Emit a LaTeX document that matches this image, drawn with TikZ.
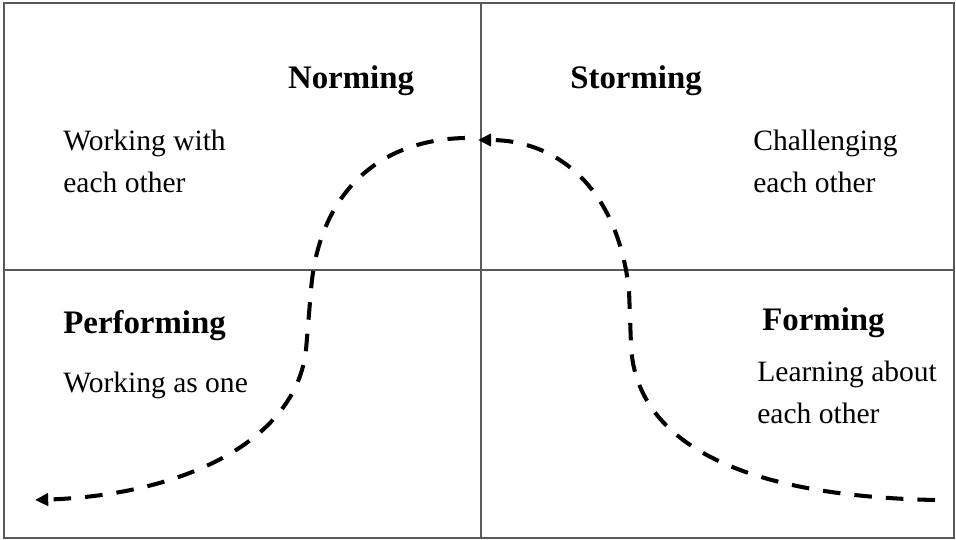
\documentclass[tikz,border=0pt]{standalone}
\usepackage{fontspec}
\setmainfont{Liberation Serif}
\usetikzlibrary{arrows.meta}

\begin{document}
\begin{tikzpicture}[
  x=0.02cm, y=-0.02cm,
  frame/.style={draw=black!65, line width=1.1pt},
  stage/.style={font=\fontsize{18.7}{22}\selectfont\bfseries, inner sep=0pt},
  note/.style={font=\fontsize{16.8}{23.8}\selectfont, align=left,
               inner sep=0pt, anchor=west},
  curve/.style={line width=2.3pt, dash pattern=on 10pt off 8pt,
                -{Triangle[length=7.5pt, width=7pt]}},
]
  \useasboundingbox (0,0) rectangle (956,540);

  %% -- quadrants --
  \draw[frame] (4,3) rectangle (954,538);
  \draw[frame] (481,3) -- (481,538);
  \draw[frame] (4,270) -- (954,270);

  %% -- stage names --
  \node[stage] (norming)    at (351,81)  {Norming};
  \node[stage] (storming)   at (636,81)  {Storming};
  \node[stage, anchor=west] (performing) at (63,326)  {Performing};
  \node[stage, anchor=west] (forming)    at (762,323) {Forming};

  %% -- notes --
  \node[note] (withtxt)  at (63,161)  {Working with\\each other};
  \node[note] (chaltxt)  at (753,161) {Challenging\\each other};
  \node[note] (onetxt)   at (63,385)  {Working as one};
  \node[note] (learntxt) at (757,392) {Learning about\\each other};

  %% -- path of the team --
  \coordinate (rstart) at (935,500);
  \coordinate (rend)   at (478,140);
  \coordinate (lstart) at (465,138);
  \coordinate (lend)   at (35,500);

  \draw[curve] (rstart) .. controls (700,495) and (634,420) .. (631,345)
    -- (629,290) .. controls (617,185) and (555,140) .. (rend);
  \draw[curve] (lstart) .. controls (372,140) and (318,200) .. (311,290)
    -- (306,350) .. controls (296,440) and (185,495) .. (lend);
\end{tikzpicture}
\end{document}
